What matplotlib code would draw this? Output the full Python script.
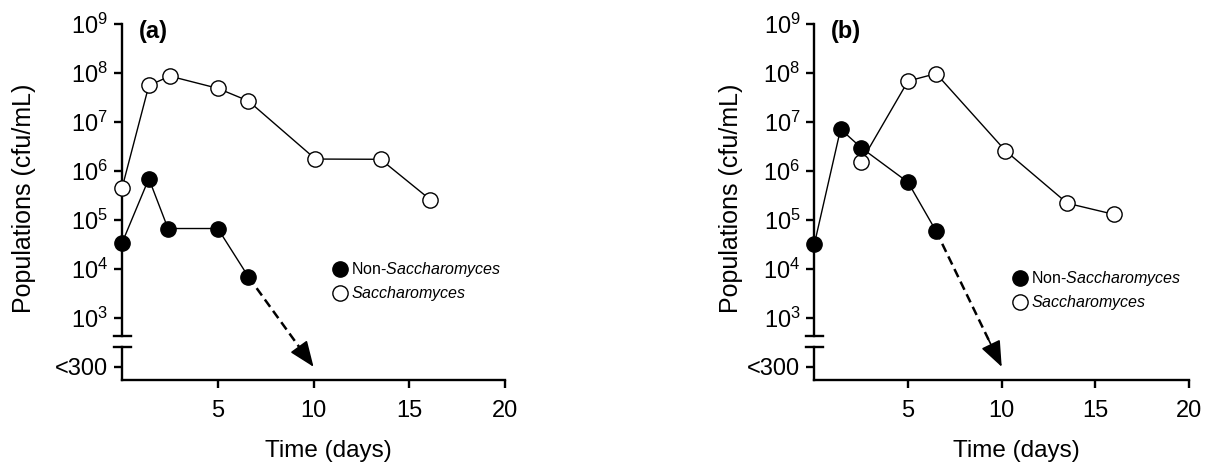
import matplotlib
matplotlib.use("Agg")
import numpy as np
import matplotlib.pyplot as plt
from matplotlib.lines import Line2D

plt.rcParams["font.family"] = ["Liberation Sans", "DejaVu Sans"]
plt.rcParams["mathtext.fontset"] = "custom"
plt.rcParams["mathtext.rm"] = "Liberation Sans"
plt.rcParams["mathtext.it"] = "Liberation Sans:italic"

# Panel (a)
days_a_non = [0, 1.4, 2.4, 5, 6.6]
pop_a_non = [3.4e4, 7e5, 6.7e4, 6.7e4, 6.9e3]
days_a_sac = [0, 1.4, 2.5, 5, 6.6, 10.1, 13.5, 16.1]
pop_a_sac = [4.5e5, 5.6e7, 8.7e7, 4.9e7, 2.7e7, 1.76e6, 1.74e6, 2.6e5]

# Panel (b)
days_b_non = [0, 1.4, 2.5, 5, 6.5]
pop_b_non = [3.2e4, 7.2e6, 3e6, 5.9e5, 5.9e4]
days_b_sac = [2.5, 5, 6.5, 10.2, 13.5, 16]
pop_b_sac = [1.55e6, 6.9e7, 9.8e7, 2.6e6, 2.2e5, 1.3e5]

# below detection limit: arrow ends here
below_limit = 100
arrow_end_day = 10

y_ticks = [100, 1e3, 1e4, 1e5, 1e6, 1e7, 1e8, 1e9]
y_labels = ["<300"] + [r"$\mathregular{10^{%d}}$" % e for e in range(3, 10)]
x_ticks = [5, 10, 15, 20]

Y_BOTTOM = 10 ** 1.74
BREAK_LO, BREAK_HI = 10 ** 2.41, 10 ** 2.62
SPINE_LW = 1.7


def draw_panel(ax, tag, d_non, p_non, d_sac, p_sac, leg_anchor, ylab_x):
    ax.set_yscale("log")
    ax.set_xlim(0, 20)
    ax.set_ylim(Y_BOTTOM, 1e9)

    ax.plot(d_sac, p_sac, "-o", color="black", lw=1.0, ms=11,
            mfc="white", mec="black", mew=1.0, clip_on=False, zorder=4)
    ax.plot(d_non, p_non, "-o", color="black", lw=1.0, ms=11,
            mfc="black", mec="black", mew=1.0, clip_on=False, zorder=5)

    # dashed arrow: non-Saccharomyces drops below detection limit
    x0, y0 = d_non[-1], np.log10(p_non[-1])
    x1, y1 = arrow_end_day, np.log10(below_limit)
    f = 0.8
    xm, ym = x0 + f * (x1 - x0), 10 ** (y0 + f * (y1 - y0))
    ax.plot([x0, xm], [p_non[-1], ym], color="black", lw=1.8,
            dashes=(3.6, 2.0), zorder=3)
    ax.annotate("", xy=(x1, below_limit), xytext=(xm, ym),
                arrowprops=dict(arrowstyle="-|>,head_length=0.8,head_width=0.32",
                                lw=1.2, color="black", shrinkA=0, shrinkB=0,
                                mutation_scale=20),
                zorder=3)

    # broken y axis
    ax.spines["left"].set_visible(False)
    ax.spines["top"].set_visible(False)
    ax.spines["right"].set_visible(False)
    ax.spines["bottom"].set_linewidth(SPINE_LW)
    ax.plot([0, 0], [BREAK_HI, 1e9], color="black", lw=SPINE_LW,
            clip_on=False, solid_capstyle="projecting", zorder=3)
    ax.plot([0, 0], [Y_BOTTOM, BREAK_LO], color="black", lw=SPINE_LW,
            clip_on=False, zorder=3)
    for yb in (BREAK_LO, BREAK_HI):
        ax.plot([-0.42, 0.45], [yb, yb], color="black", lw=SPINE_LW,
                clip_on=False, zorder=3)

    ax.set_yticks(y_ticks)
    ax.set_yticklabels(y_labels)
    ax.minorticks_off()
    ax.set_xticks(x_ticks)
    ax.tick_params(axis="both", direction="out", length=6, width=SPINE_LW,
                   labelsize=17)
    ax.tick_params(axis="y", pad=4)
    ax.tick_params(axis="x", pad=9)

    ax.set_ylabel("Populations (cfu/mL)", fontsize=18)
    ax.yaxis.set_label_coords(ylab_x, 0.51)
    ax.set_xlabel("Time (days)", fontsize=17.5)
    ax.xaxis.set_label_coords(0.54, -0.17)

    ax.text(0.045, 0.98, tag, transform=ax.transAxes, fontsize=17,
            fontweight="bold", ha="left", va="center")

    handles = [
        Line2D([], [], ls="none", marker="o", ms=11, mfc="black", mec="black"),
        Line2D([], [], ls="none", marker="o", ms=11, mfc="white", mec="black"),
    ]
    labels = [r"Non-$\mathit{Saccharomyces}$", r"$\mathit{Saccharomyces}$"]
    ax.legend(handles, labels, loc="center left", bbox_to_anchor=leg_anchor,
              frameon=False, fontsize=11.5, borderpad=0, borderaxespad=0,
              handlelength=0.8, handletextpad=0.28, labelspacing=0.3)


fig = plt.figure(figsize=(12.12, 4.66), dpi=100)
ax_a = fig.add_axes([0.1007, 0.1855, 0.316, 0.7625])
ax_b = fig.add_axes([0.6719, 0.1855, 0.3092, 0.7625])

draw_panel(ax_a, "(a)", days_a_non, pop_a_non, days_a_sac, pop_a_sac,
           (0.553, 0.275), -0.225)
draw_panel(ax_b, "(b)", days_b_non, pop_b_non, days_b_sac, pop_b_sac,
           (0.533, 0.25), -0.19)

fig.savefig("out.png", dpi=100)
